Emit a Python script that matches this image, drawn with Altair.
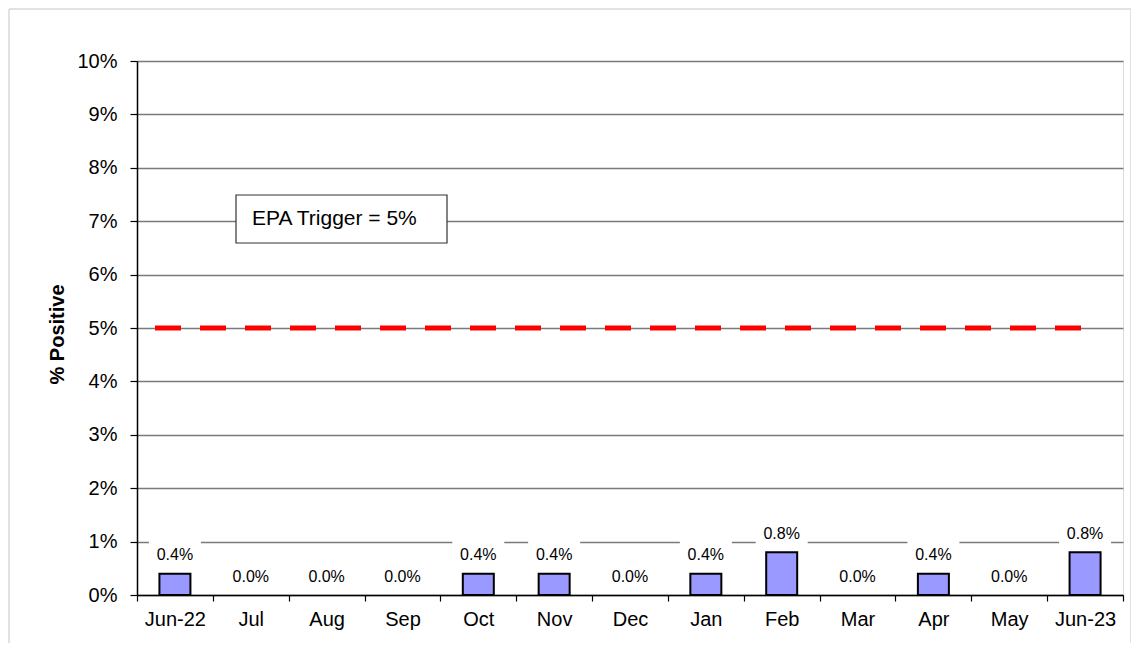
import altair as alt
import pandas as pd

months = ["Jun-22", "Jul", "Aug", "Sep", "Oct", "Nov", "Dec", "Jan", "Feb", "Mar", "Apr", "May", "Jun-23"]
pct_positive = [0.4, 0.0, 0.0, 0.0, 0.4, 0.4, 0.0, 0.4, 0.8, 0.0, 0.4, 0.0, 0.8]
y_ticks = [0, 1, 2, 3, 4, 5, 6, 7, 8, 9, 10]
epa_trigger = 5
trigger_text = "EPA Trigger = 5%"

df = pd.DataFrame({
    "month": months,
    "value": pct_positive,
    "label": [f"{v:.1f}%" for v in pct_positive],
})

W, H = 986, 534
FONT = "Liberation Sans"

x_enc = alt.X("month:N", sort=months, title=None,
              scale=alt.Scale(paddingInner=0, paddingOuter=0),
              axis=alt.Axis(labelAngle=0, labelFontSize=20, labelColor="black",
                            labelPadding=8, tickBand="extent", tickSize=6,
                            tickColor="black", domainColor="black", domainWidth=1.5,
                            tickWidth=1.2, grid=False, labelFont=FONT))
y_enc = alt.Y("value:Q", title="% Positive",
              scale=alt.Scale(domain=[0, 10], nice=False, zero=True),
              axis=alt.Axis(values=y_ticks, labelExpr="datum.value + '%'",
                            labelFontSize=20, labelColor="black", labelPadding=13,
                            tickSize=7, tickColor="black", tickWidth=1.2,
                            domainColor="black", domainWidth=1.5,
                            grid=True, gridColor="#7a7a7a", gridWidth=1.5,
                            titleFontSize=20, titleFontWeight="bold", titleColor="black",
                            titleAngle=-90, titleX=-74, titleY=273, titleAlign="center",
                            titleBaseline="alphabetic", titleFont=FONT, labelFont=FONT))

base = alt.Chart(df)

box_path = "M-1,-0.6L1,-0.6L1,0.6L-1,0.6Z"
label_boxes = base.mark_point(shape=box_path, size=52 * 52, filled=True, fill="white",
                              strokeWidth=0, opacity=1, yOffset=-18.5).encode(x=x_enc, y=y_enc)

bars = base.transform_filter(alt.datum.value > 0).mark_bar(
    width=31, color="#9999FF", stroke="black", strokeWidth=2).encode(x=x_enc, y=y_enc)

labels = base.mark_text(dy=-18.5, baseline="middle", fontSize=16, font=FONT, color="black").encode(
    x=x_enc, y=y_enc, text="label:N")

trigger_line = alt.Chart(pd.DataFrame({"t": [epa_trigger]})).mark_rule(
    color="#FF0000", strokeWidth=5, strokeDash=[26, 19], strokeCap="butt"
).encode(y=alt.Y("t:Q"), x=alt.value(18), x2=alt.value(948))

note_df = pd.DataFrame({"text": [trigger_text]})
note_box = alt.Chart(note_df).mark_rect(fill="white", stroke="#333333", strokeWidth=1.2).encode(
    x=alt.value(99), x2=alt.value(310), y=alt.value(134), y2=alt.value(182))
note_text = alt.Chart(note_df).mark_text(align="left", baseline="middle", fontSize=21,
                                         font=FONT, color="black").encode(
    x=alt.value(115), y=alt.value(158), text="text:N")

border_color = "#d9d9d9"
border_left = alt.Chart(note_df).mark_rule(color=border_color, strokeWidth=1.5).encode(
    x=alt.value(-128), y=alt.value(-52), y2=alt.value(H + 60))
border_top = alt.Chart(note_df).mark_rule(color=border_color, strokeWidth=1.5).encode(
    x=alt.value(-128), x2=alt.value(994), y=alt.value(-52))
border_right = alt.Chart(note_df).mark_rule(color=border_color, strokeWidth=1.5).encode(
    x=alt.value(994), y=alt.value(-52), y2=alt.value(H + 60))

chart = alt.layer(
    border_left, border_top, border_right,
    label_boxes, bars, labels, trigger_line, note_box, note_text
).properties(
    width=W, height=H,
    autosize=alt.AutoSizeParams(type="none"),
    padding={"left": 129, "top": 53, "right": 8, "bottom": 48},
).configure_view(
    stroke="#808080", strokeWidth=2
).configure(font=FONT, background="white")

chart.save("out.html", embed_options={"renderer": "svg", "actions": False})
